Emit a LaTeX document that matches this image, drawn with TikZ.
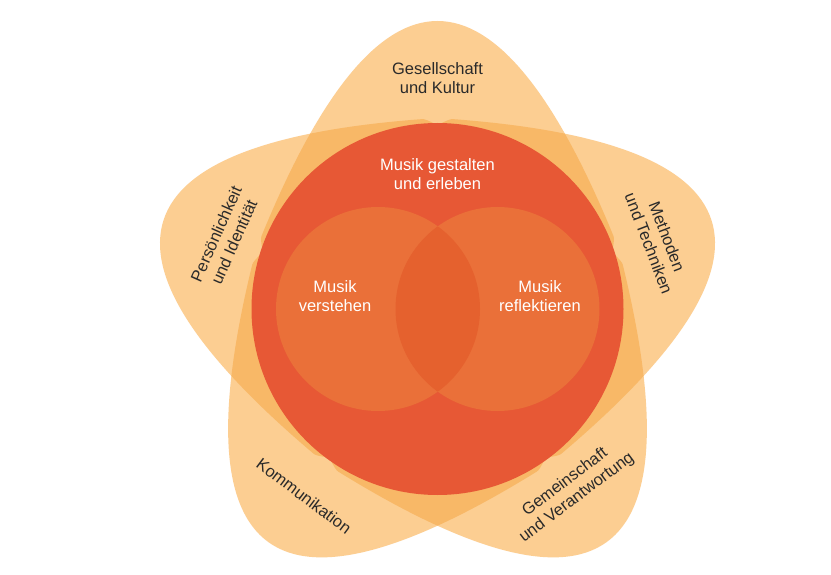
\documentclass[tikz,border=0pt]{standalone}
\usepackage{fontspec}
\setmainfont{Liberation Sans}
\definecolor{petalc}{HTML}{FCCE92}
\definecolor{overlapc}{HTML}{F8B867}
\definecolor{bigred}{HTML}{E75835}
\definecolor{innerc}{HTML}{EA7039}
\definecolor{lensc}{HTML}{E5612E}
\definecolor{txtc}{HTML}{2A2A2A}
\tikzset{
  lab/.style={align=center, inner sep=0pt, text=txtc, font=\fontsize{16.5}{19.5}\selectfont},
  wlab/.style={align=center, inner sep=0pt, text=white, font=\fontsize{16.5}{18.5}\selectfont},
  petalat/.style={shift={(437.5,309)}, rotate=#1}
}
\begin{document}
\begin{tikzpicture}[x=1pt,y=-1pt]
\useasboundingbox (0,0) rectangle (831,575);
\fill[white] (0,0) rectangle (831,575);
% petals
\foreach \a in {0,72,144,216,288}{
  \fill[petalc, petalat=\a] (-176,-72.9) .. controls (-58.67,-359.7) and (58.67,-359.7) .. (176,-72.9)
     .. controls (182,-58.2) and (120,150) .. (0,150) .. controls (-120,150) and (-182,-58.2) .. cycle;
}
% overlaps
\foreach \a in {0,72,144,216,288}{
  \foreach \b in {0,72,144,216,288}{
    \ifnum\a<\b
    \begin{scope}
      \clip[petalat=\a] (-176,-72.9) .. controls (-58.67,-359.7) and (58.67,-359.7) .. (176,-72.9)
         .. controls (182,-58.2) and (120,150) .. (0,150) .. controls (-120,150) and (-182,-58.2) .. cycle;
      \fill[overlapc, petalat=\b] (-176,-72.9) .. controls (-58.67,-359.7) and (58.67,-359.7) .. (176,-72.9)
         .. controls (182,-58.2) and (120,150) .. (0,150) .. controls (-120,150) and (-182,-58.2) .. cycle;
    \end{scope}
    \fi
  }
}
% big circle
\fill[bigred] (437.5,309) circle (186pt);
% inner circles
\fill[innerc] (378,309) circle (102pt);
\fill[innerc] (497.5,309) circle (102pt);
\begin{scope}
  \clip (378,309) circle (102pt);
  \fill[lensc] (497.5,309) circle (102pt);
\end{scope}
% labels
\node[lab] (gk) at (437.5,78) {Gesellschaft\\und Kultur};
\node[lab, rotate=66] (pi) at (225,238) {Persönlichkeit\\und Identität};
\node[lab, rotate=-69] (mt) at (658,240) {Methoden\\und Techniken};
\node[lab, rotate=-37] (ko) at (304,496) {Kommunikation};
\node[lab, rotate=37] (gv) at (571,490) {Gemeinschaft\\und Verantwortung};
\node[wlab] (mg) at (437.5,174) {Musik gestalten\\und erleben};
\node[wlab] (mv) at (335,296) {Musik\\verstehen};
\node[wlab] (mr) at (540,296) {Musik\\reflektieren};
\end{tikzpicture}
\end{document}
